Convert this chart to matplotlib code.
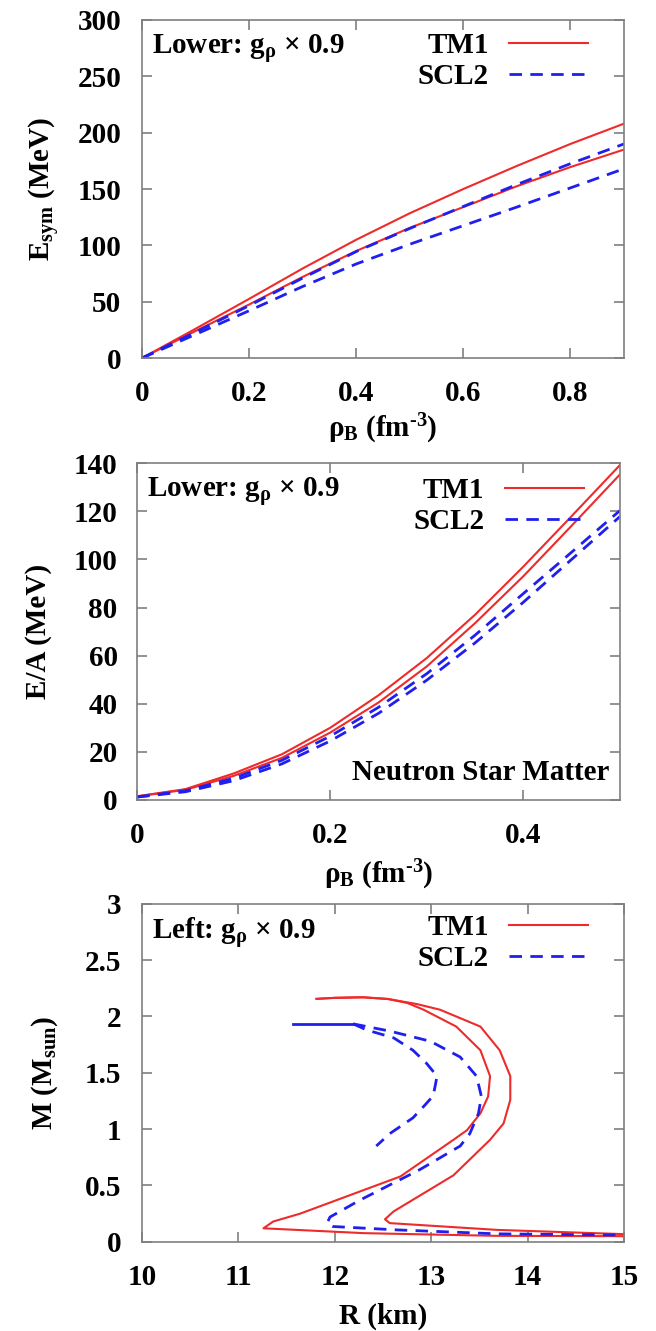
import matplotlib
matplotlib.use('Agg')
import matplotlib.pyplot as plt

plt.rcParams['font.family'] = 'Liberation Serif'
plt.rcParams['font.weight'] = 'bold'
plt.rcParams['axes.labelweight'] = 'bold'
plt.rcParams['font.size'] = 21
plt.rcParams['mathtext.fontset'] = 'custom'
plt.rcParams['mathtext.rm'] = 'Liberation Serif:bold'
plt.rcParams['mathtext.it'] = 'Liberation Serif:bold'
plt.rcParams['mathtext.bf'] = 'Liberation Serif:bold'
plt.rcParams['mathtext.default'] = 'rm'

RED = '#ee2a2a'
BLUE = '#1f1fee'

# symmetry energy vs density
rho1 = [0, 0.1, 0.2, 0.3, 0.4, 0.5, 0.6, 0.7, 0.8, 0.9]
esym_tm1 = [0, 26, 52.5, 79.5, 105, 128.5, 150, 170.5, 190, 208]
esym_tm1_low = [0, 24, 47.5, 72, 95, 115.5, 134, 152.5, 169.5, 185]
esym_scl2 = [0, 23, 46.5, 71, 94.5, 115, 134.5, 154, 172.5, 190]
esym_scl2_low = [0, 21, 42, 63.5, 83.5, 101, 117.5, 134, 151, 168]

# energy per baryon in neutron star matter
rho2 = [0, 0.05, 0.1, 0.15, 0.2, 0.25, 0.3, 0.35, 0.4, 0.45, 0.5]
ea_tm1 = [1.5, 4.5, 11, 19, 30, 43.5, 59, 77, 97, 118, 139.2]
ea_tm1_low = [1.5, 4.2, 10, 17.5, 28, 40.5, 55.5, 73.5, 93, 114, 135.3]
ea_scl2 = [1.2, 3.8, 9, 16.5, 26.5, 38.5, 52.5, 68.5, 85.8, 103, 120.3]
ea_scl2_low = [1.2, 3.4, 8, 15, 24.5, 36, 49.8, 65.3, 82.2, 100, 117.8]

# mass-radius relations
r_tm1 = [11.81, 12.0, 12.29, 12.55, 12.85, 13.09, 13.51, 13.71, 13.82, 13.82, 13.75,
         13.61, 13.23, 12.61, 12.52, 12.57, 13.68, 15.0]
m_tm1 = [2.156, 2.165, 2.17, 2.155, 2.11, 2.06, 1.91, 1.70, 1.47, 1.26, 1.05,
         0.905, 0.59, 0.27, 0.20, 0.166, 0.106, 0.068]
r_tm1_low = [11.81, 12.0, 12.29, 12.55, 12.75, 12.92, 13.26, 13.51, 13.61, 13.59, 13.51,
             13.37, 13.23, 12.68, 11.64, 11.36, 11.26, 12.30, 13.68, 15.0]
m_tm1_low = [2.156, 2.165, 2.17, 2.155, 2.12, 2.06, 1.91, 1.70, 1.47, 1.29, 1.14,
             0.99, 0.905, 0.58, 0.25, 0.18, 0.12, 0.077, 0.053, 0.05]
r_scl2_top = [11.57, 12.19]
m_scl2_top = [1.934, 1.934]
r_scl2 = [12.19, 12.57, 12.99, 13.30, 13.47, 13.52, 13.49, 13.40, 13.30, 12.88, 12.26,
          11.95, 11.92, 11.98, 12.64, 13.68, 15.0]
m_scl2 = [1.934, 1.87, 1.78, 1.64, 1.47, 1.29, 1.14, 0.96, 0.85, 0.64, 0.37,
          0.22, 0.166, 0.136, 0.106, 0.071, 0.06]
r_scl2_low = [12.19, 12.33, 12.61, 12.81, 12.95, 13.06, 13.04, 13.02, 12.92, 12.81, 12.57, 12.43]
m_scl2_low = [1.934, 1.88, 1.81, 1.70, 1.585, 1.47, 1.38, 1.295, 1.20, 1.10, 0.96, 0.85]

fig = plt.figure(figsize=(6.56, 13.31), dpi=100)
ax1 = fig.add_axes([0.2165, 0.731, 0.7348, 0.254])
ax2 = fig.add_axes([0.209, 0.399, 0.736, 0.253])
ax3 = fig.add_axes([0.2165, 0.067, 0.7348, 0.254])

dash = (0, (4.5, 3))


def style(ax, ypad):
    for s in ax.spines.values():
        s.set_color('#7f7f7f')
        s.set_linewidth(1.2)
    ax.tick_params(direction='in', top=True, right=True, length=7,
                   color='#7f7f7f', width=1.2)
    ax.tick_params(axis='x', pad=16)
    ax.tick_params(axis='y', pad=ypad)


def legend(ax, ytop):
    ax.legend(loc='upper right', frameon=False, markerfirst=False,
              handlelength=2.7, handletextpad=0.7, labelspacing=0.13,
              borderaxespad=0.2, bbox_to_anchor=(0.961, ytop))


ax1.plot(rho1, esym_tm1, color=RED, lw=1.5, label='TM1')
ax1.plot(rho1, esym_tm1_low, color=RED, lw=1.5)
ax1.plot(rho1, esym_scl2, color=BLUE, lw=2, ls=dash, label='SCL2')
ax1.plot(rho1, esym_scl2_low, color=BLUE, lw=2, ls=dash)
ax1.set_xlim(0, 0.9)
ax1.set_ylim(0, 300)
ax1.set_xticks([0, 0.2, 0.4, 0.6, 0.8])
ax1.set_xticklabels(['0', '0.2', '0.4', '0.6', '0.8'])
ax1.set_yticks(range(0, 301, 50))
ax1.set_xlabel('$\\rho_B$ (fm$^{\u2010 3}$)')
ax1.set_ylabel(r'E$_{sym}$ (MeV)')
ax1.xaxis.set_label_coords(0.5, -0.158)
ax1.yaxis.set_label_coords(-0.166, 0.5)
ax1.text(0.021, 0.965, r'Lower: g$_\rho$ $\times$ 0.9', transform=ax1.transAxes,
         va='top', ha='left')
legend(ax1, 1.015)
style(ax1, 15)

ax2.plot(rho2, ea_tm1, color=RED, lw=1.5, label='TM1')
ax2.plot(rho2, ea_tm1_low, color=RED, lw=1.5)
ax2.plot(rho2, ea_scl2, color=BLUE, lw=2, ls=dash, label='SCL2')
ax2.plot(rho2, ea_scl2_low, color=BLUE, lw=2, ls=dash)
ax2.set_xlim(0, 0.5)
ax2.set_ylim(0, 140)
ax2.set_xticks([0, 0.2, 0.4])
ax2.set_xticklabels(['0', '0.2', '0.4'])
ax2.set_yticks(range(0, 141, 20))
ax2.set_xlabel('$\\rho_B$ (fm$^{\u2010 3}$)')
ax2.set_ylabel('E/A (MeV)')
ax2.xaxis.set_label_coords(0.5, -0.172)
ax2.yaxis.set_label_coords(-0.176, 0.5)
ax2.text(0.021, 0.965, r'Lower: g$_\rho$ $\times$ 0.9', transform=ax2.transAxes,
         va='top', ha='left')
ax2.text(0.979, 0.04, 'Neutron Star Matter', transform=ax2.transAxes,
         va='bottom', ha='right')
legend(ax2, 1.01)
style(ax2, 14)

ax3.plot(r_tm1, m_tm1, color=RED, lw=1.5, label='TM1')
ax3.plot(r_tm1_low, m_tm1_low, color=RED, lw=1.5)
ax3.plot(r_scl2, m_scl2, color=BLUE, lw=2, ls=dash, label='SCL2')
ax3.plot(r_scl2_low, m_scl2_low, color=BLUE, lw=2, ls=dash)
ax3.plot(r_scl2_top, m_scl2_top, color=BLUE, lw=2)
ax3.set_xlim(10, 15)
ax3.set_ylim(0, 3)
ax3.set_xticks(range(10, 16))
ax3.set_yticks([0, 0.5, 1, 1.5, 2, 2.5, 3])
ax3.set_yticklabels(['0', '0.5', '1', '1.5', '2', '2.5', '3'])
ax3.set_xlabel('R (km)')
ax3.set_ylabel(r'M (M$_{sun}$)')
ax3.xaxis.set_label_coords(0.5, -0.18)
ax3.yaxis.set_label_coords(-0.17, 0.5)
ax3.text(0.021, 0.965, r'Left: g$_\rho$ $\times$ 0.9', transform=ax3.transAxes,
         va='top', ha='left')
legend(ax3, 1.02)
style(ax3, 15)

fig.savefig('out.png', dpi=100)
